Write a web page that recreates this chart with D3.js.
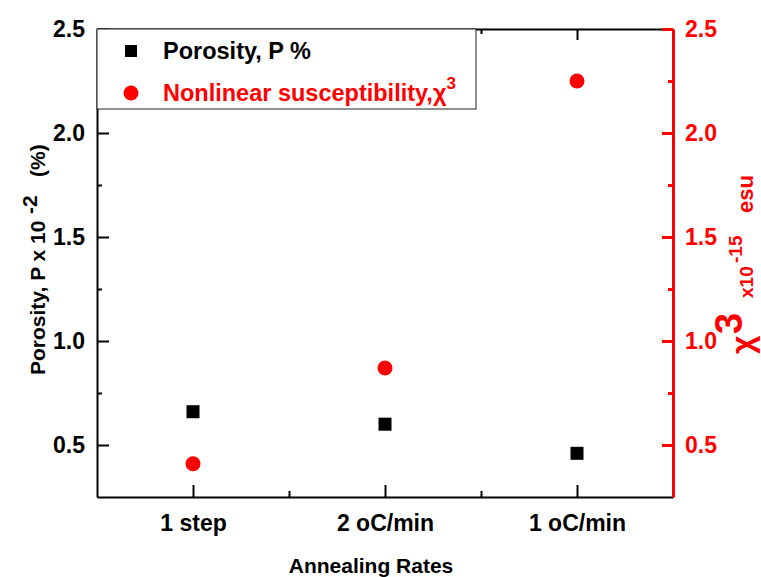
<!DOCTYPE html>
<html>
<head>
<meta charset="utf-8">
<script src="https://cdn.jsdelivr.net/npm/d3@7"></script>
<style>
  body { margin: 0; background: #fff; }
  svg { font-family: "Liberation Sans", Arial, sans-serif; font-weight: bold; }
  .axis text { font-size: 23px; }
</style>
</head>
<body>
<div id="chart"></div>
<script>
// data
const categories = ['1 step', '2 oC/min', '1 oC/min'];
const porosity = [0.66, 0.60, 0.46];
const susceptibility = [0.41, 0.87, 2.25];
const yTicks = [0.5, 1.0, 1.5, 2.0, 2.5];
const yMinorTicks = [0.75, 1.25, 1.75, 2.25];
const xMinorTicks = [1.5, 2.5];

const width = 761, height = 577;
const plotLeft = 97, plotRight = 673, plotTop = 29, plotBottom = 497;

const svg = d3.select('#chart').append('svg')
    .attr('width', width)
    .attr('height', height);

const x = d3.scaleLinear().domain([0.5, 3.5]).range([plotLeft, plotRight]);
const yLeft = d3.scaleLinear().domain([0.25, 2.5]).range([plotBottom, plotTop]);
const yRight = d3.scaleLinear().domain([0.25, 2.5]).range([plotBottom, plotTop]);

const xPos = categories.map((c, i) => i + 1);

// bottom axis
svg.append('g').attr('class', 'axis')
    .attr('transform', `translate(0,${plotBottom})`)
    .call(d3.axisBottom(x).tickValues(xPos).tickFormat(d => categories[d - 1])
        .tickSizeInner(-12).tickSizeOuter(0).tickPadding(18));
svg.append('g').attr('transform', `translate(0,${plotBottom})`)
    .call(d3.axisBottom(x).tickValues(xMinorTicks).tickFormat('')
        .tickSizeInner(-6).tickSizeOuter(0))
    .call(g => g.select('.domain').remove());

// top axis (mirror, no labels)
svg.append('g').attr('transform', `translate(0,${plotTop})`)
    .call(d3.axisTop(x).tickValues(xPos).tickFormat('').tickSizeInner(-11).tickSizeOuter(0));
svg.append('g').attr('transform', `translate(0,${plotTop})`)
    .call(d3.axisTop(x).tickValues(xMinorTicks).tickFormat('').tickSizeInner(-5).tickSizeOuter(0))
    .call(g => g.select('.domain').remove());

// left axis
svg.append('g').attr('class', 'axis')
    .attr('transform', `translate(${plotLeft},0)`)
    .call(d3.axisLeft(yLeft).tickValues(yTicks).tickFormat(d3.format('.1f'))
        .tickSizeInner(-12).tickSizeOuter(0).tickPadding(12));
svg.append('g').attr('transform', `translate(${plotLeft},0)`)
    .call(d3.axisLeft(yLeft).tickValues(yMinorTicks).tickFormat('')
        .tickSizeInner(-5).tickSizeOuter(0))
    .call(g => g.select('.domain').remove());

// right axis (red)
svg.append('g').attr('class', 'axis red')
    .attr('transform', `translate(${plotRight},0)`)
    .call(d3.axisRight(yRight).tickValues(yTicks).tickFormat(d3.format('.1f'))
        .tickSizeInner(-11).tickSizeOuter(0).tickPadding(12));
svg.append('g').attr('class', 'red')
    .attr('transform', `translate(${plotRight},0)`)
    .call(d3.axisRight(yRight).tickValues(yMinorTicks).tickFormat('')
        .tickSizeInner(-5).tickSizeOuter(0))
    .call(g => g.select('.domain').remove());

svg.selectAll('.domain').attr('stroke', '#000').attr('stroke-width', 2);
svg.selectAll('.tick line').attr('stroke', '#000').attr('stroke-width', 2);
svg.selectAll('.tick text').attr('fill', '#000');
svg.selectAll('.red .domain, .red .tick line').attr('stroke', '#ff0000').attr('stroke-width', 3);
svg.selectAll('.red .tick text').attr('fill', '#ff0000');

// data points
svg.append('g').selectAll('rect')
    .data(porosity)
    .join('rect')
    .attr('x', (d, i) => x(xPos[i]) - 6.5)
    .attr('y', d => yLeft(d) - 6.5)
    .attr('width', 13)
    .attr('height', 13)
    .attr('fill', '#000');

svg.append('g').selectAll('circle')
    .data(susceptibility)
    .join('circle')
    .attr('cx', (d, i) => x(xPos[i]))
    .attr('cy', d => yRight(d))
    .attr('r', 7.5)
    .attr('fill', '#ff0000');

// legend
const legend = svg.append('g');
legend.append('rect')
    .attr('x', plotLeft).attr('y', plotTop)
    .attr('width', 379).attr('height', 80)
    .attr('fill', '#fff').attr('stroke', '#222').attr('stroke-width', 1);
legend.append('rect')
    .attr('x', 125).attr('y', 45).attr('width', 12).attr('height', 12)
    .attr('fill', '#000');
legend.append('text')
    .attr('x', 163).attr('y', 59)
    .attr('font-size', 23.5)
    .text('Porosity, P %');
legend.append('circle')
    .attr('cx', 131).attr('cy', 93).attr('r', 7.5)
    .attr('fill', '#ff0000');
const lt = legend.append('text')
    .attr('x', 163).attr('y', 101)
    .attr('font-size', 23.5)
    .attr('fill', '#ff0000');
lt.append('tspan').text('Nonlinear susceptibility,');
lt.append('tspan').text('\u03c7');
lt.append('tspan').attr('font-size', 17).attr('dy', -12).text('3');

// x title
svg.append('text')
    .attr('x', 371).attr('y', 573)
    .attr('text-anchor', 'middle')
    .attr('font-size', 21)
    .text('Annealing Rates');

// left title
const ly = svg.append('g')
    .attr('transform', 'translate(45,375) rotate(-90)');
ly.append('text').attr('x', 0).attr('y', 0).attr('font-size', 21).text('Porosity, P x 10');
ly.append('text').attr('x', 161).attr('y', -8).attr('font-size', 21).text('-2');
ly.append('text').attr('x', 198).attr('y', 0).attr('font-size', 21).text('(%)');

// right title
const ry = svg.append('g')
    .attr('transform', 'translate(753,354) rotate(-90)')
    .attr('fill', '#ff0000');
ry.append('text').attr('x', 0).attr('y', 0).attr('font-size', 32).text('\u03c7');
ry.append('text').attr('x', 20).attr('y', -11).attr('font-size', 38).text('3');
ry.append('text').attr('x', 56).attr('y', 0).attr('font-size', 19).text('x10');
ry.append('text').attr('x', 91).attr('y', -11).attr('font-size', 19).text('-15');
ry.append('text').attr('x', 141).attr('y', 0).attr('font-size', 22).text('esu');
</script>
</body>
</html>
